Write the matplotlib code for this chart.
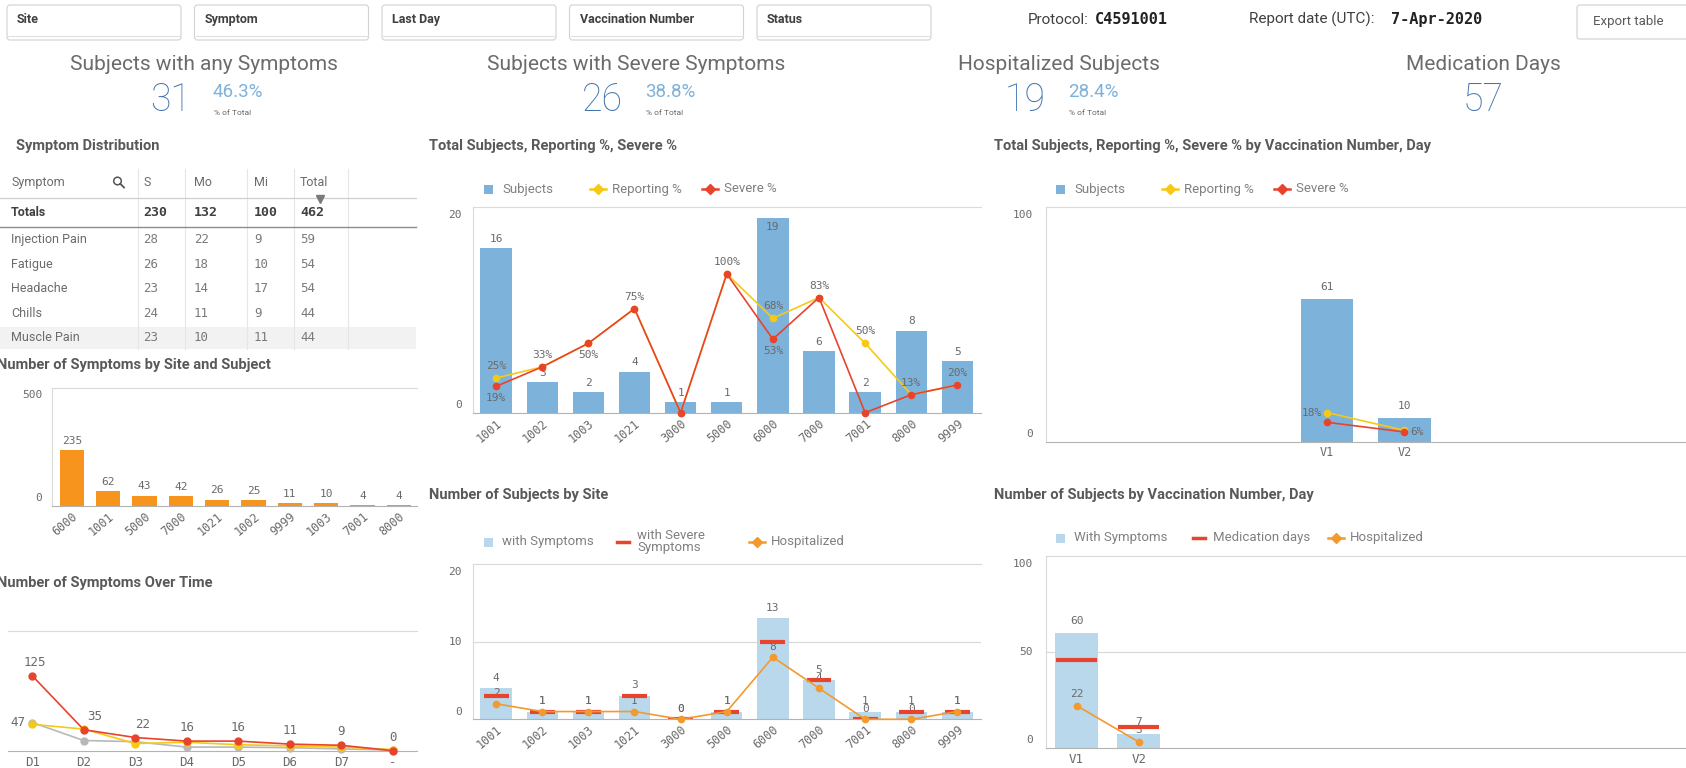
import matplotlib.pyplot as plt
from matplotlib.patches import FancyBboxPatch, Rectangle, Circle

W, H = 1686, 768

# filter bar / header
filters = ["Site", "Symptom", "Last Day", "Vaccination Number", "Status"]
protocol_id = "C4591001"
report_date = "7-Apr-2020"

# KPI tiles
kpi_titles = ["Subjects with any Symptoms", "Subjects with Severe Symptoms",
              "Hospitalized Subjects", "Medication Days"]
kpi_values = [31, 26, 19, 57]
kpi_pcts = ["46.3%", "38.8%", "28.4%", None]

# symptom distribution table
table_cols = ["Symptom", "S", "Mo", "Mi", "Total"]
table_totals = [230, 132, 100, 462]
symptoms = ["Injection Pain", "Fatigue", "Headache", "Chills", "Muscle Pain"]
sym_s = [28, 26, 23, 24, 23]
sym_mo = [22, 18, 14, 11, 10]
sym_mi = [9, 10, 17, 9, 11]
sym_total = [59, 54, 54, 44, 44]

# symptoms by site and subject
subj_sites = ["6000", "1001", "5000", "7000", "1021", "1002", "9999", "1003", "7001", "8000"]
subj_counts = [235, 62, 43, 42, 26, 25, 11, 10, 4, 4]

# symptoms over time (S / Mo / Mi)
days = ["D1", "D2", "D3", "D4", "D5", "D6", "D7", "-"]
over_s = [125, 35, 22, 16, 16, 11, 9, 0]
over_mo = [44, 36, 12, 14, 10, 8, 6, 2]
over_mi = [47, 17, 15, 6, 6, 5, 3, 1]

# subjects / reporting % / severe % by site
sites = ["1001", "1002", "1003", "1021", "3000", "5000", "6000", "7000", "7001", "8000", "9999"]
site_subjects = [16, 3, 2, 4, 1, 1, 19, 6, 2, 8, 5]
site_reporting = [25, 33, 50, 75, 0, 100, 68, 83, 50, 13, 20]
site_severe = [19, 33, 50, 75, 0, 100, 53, 83, 0, 13, 20]

# number of subjects by site
site_with_sym = [4, 1, 1, 3, 0, 1, 13, 5, 1, 1, 1]
site_sev_sym = [3, 1, 1, 3, 0, 1, 10, 5, 0, 1, 1]
site_hosp = [2, 1, 1, 1, 0, 1, 8, 4, 0, 0, 1]

# by vaccination number
vacc = ["V1", "V2"]
vacc_subjects = [61, 10]
vacc_reporting = [18, 7]
vacc_severe = [12, 6]
vacc_with_sym = [60, 7]
vacc_med_days = [46, 11]
vacc_hosp = [22, 3]

SANS = "Roboto"
MONO = "DejaVu Sans Mono"
TITLE = "#595959"
TXT = "#404040"
LEG = "#808080"
NUM = "#6a6a6a"
AXIS = "#dadada"
BASE = "#b3b3b3"
BLUE_BAR = "#7db3db"
LIGHT_BAR = "#b9d8eb"
ORANGE_BAR = "#f7941d"
RED = "#e8432c"
YELLOW = "#f6c917"
HOSP = "#f39a2e"
GREY_LINE = "#b8b8b8"
KPI_BLUE = "#4275b0"
KPI_PCT = "#7fb1d9"

plt.rcParams["font.family"] = [SANS, "DejaVu Sans"]

fig = plt.figure(figsize=(W / 100, H / 100), dpi=100)
bg = fig.add_axes([0, 0, 1, 1])
bg.set_xlim(0, W)
bg.set_ylim(H, 0)
bg.axis("off")


def px_axes(x0, y0, x1, y1):
    return fig.add_axes([x0 / W, 1 - y1 / H, (x1 - x0) / W, (y1 - y0) / H])


def frame(ax, ymax, yticks, pad=8, left=True, tick_labels=True):
    ax.set_ylim(0, ymax)
    ax.set_yticks([])
    ax.tick_params(axis="x", length=0, pad=3, labelsize=8.5, labelcolor=NUM,
                   labelfontfamily=MONO)
    ax.spines["right"].set_visible(False)
    ax.spines["top"].set_color(AXIS)
    ax.spines["left"].set_color(AXIS)
    ax.spines["left"].set_visible(left)
    ax.spines["bottom"].set_color(BASE)
    ax.patch.set_alpha(0)
    for t in yticks[1:-1]:
        ax.axhline(t, color=AXIS, lw=0.9, zorder=0)
    if not tick_labels:
        return
    for t in yticks:
        if t == yticks[0]:
            va, dy = "bottom", 2
        elif t == yticks[-1]:
            va, dy = "top", -2
        else:
            va, dy = "center", 0
        ax.annotate(str(t), (0, t), xycoords=("axes fraction", "data"),
                    xytext=(-pad, dy), textcoords="offset points", ha="right", va=va,
                    fontsize=8, family=MONO, color=NUM, annotation_clip=False)


def label(ax, x, y, text, dx=0, dy=3, ha="center", va="bottom", z=3):
    ax.annotate(text, (x, y), xytext=(dx, dy), textcoords="offset points", ha=ha, va=va,
                fontsize=8, family=MONO, color=NUM, zorder=z, annotation_clip=False)


def title(x, y, text):
    bg.text(x, y, text, fontsize=10.5, fontweight="bold", color=TITLE, va="center", ha="left")


def legend_item(x, y, kind, color, text):
    if kind == "square":
        bg.add_patch(Rectangle((x - 4.5, y - 4.5), 9, 9, color=color, lw=0))
    elif kind == "line":
        bg.plot([x - 8, x + 8], [y, y], color=color, lw=1.8)
        bg.plot([x], [y], marker="D", ms=5, color=color)
    elif kind == "dash":
        bg.plot([x - 6, x + 6], [y, y], color=color, lw=2.5)
    bg.text(x + 14, y, text, fontsize=9.5, color=LEG, va="center", ha="left")


def xlabels_rotated(ax, names):
    ax.set_xticks(range(len(names)))
    ax.set_xticklabels(names, rotation=40, ha="right", va="top", rotation_mode="anchor")


# ---- filter bar ----
for i, name in enumerate(filters):
    x0 = 7 + 187.5 * i
    bg.add_patch(FancyBboxPatch((x0, 5), 174, 35, boxstyle="round,pad=0,rounding_size=3",
                                fc="white", ec="#d2d2d2", lw=0.8))
    bg.plot([x0 + 1, x0 + 173], [36, 36], color="#e0e0e0", lw=0.8)
    bg.text(x0 + 10, 19.5, name, fontsize=9, fontweight="bold", color=TXT, va="center")

bg.text(1028, 19.5, "Protocol:", fontsize=11, color=TXT, va="center")
bg.text(1095, 19.5, protocol_id, fontsize=11, fontweight="bold", family=MONO, color="#222222", va="center")
bg.text(1249, 19.5, "Report date (UTC):", fontsize=11, color=TXT, va="center")
bg.text(1391, 19.5, report_date, fontsize=11, fontweight="bold", family=MONO, color="#222222", va="center")

bg.add_patch(FancyBboxPatch((1577, 5), 130, 34, boxstyle="round,pad=0,rounding_size=3",
                            fc="white", ec="#cfcfcf", lw=0.8))
bg.text(1628, 22, "Export table", fontsize=9.5, color=TITLE, ha="center", va="center")

# ---- KPI tiles ----
kpi_centers = [204, 636, 1059, 1483]
for cx, ttl, val, pct in zip(kpi_centers, kpi_titles, kpi_values, kpi_pcts):
    bg.text(cx, 65, ttl, fontsize=15, color="#6b6b6b", ha="center", va="center")
    if pct is None:
        bg.text(cx, 100, str(val), fontsize=27, fontweight="light", color=KPI_BLUE, ha="center", va="center")
    else:
        bg.text(cx - 13, 100, str(val), fontsize=27, fontweight="light", color=KPI_BLUE, ha="right", va="center")
        bg.text(cx + 9, 92, pct, fontsize=13.5, color=KPI_PCT, ha="left", va="center")
        bg.text(cx + 10, 113, "% of Total", fontsize=6, color="#666666", ha="left", va="center")

# ---- symptom distribution table ----
title(16, 146, "Symptom Distribution")
col_x = [11, 143, 194, 254, 300]
sep_x = [137.7, 185, 246.7, 294.3, 347.7]
bg.add_patch(Rectangle((0, 327), 416, 22, color="#f2f2f2", lw=0))
for sx in sep_x:
    bg.plot([sx, sx], [169, 349], color="#e6e6e6", lw=0.8)
bg.plot([0, 416], [197.7, 197.7], color="#cfcfcf", lw=0.9)
bg.plot([0, 416], [226.7, 226.7], color="#8c8c8c", lw=1.0)
for cx, col in zip(col_x, table_cols):
    bg.text(cx, 182.7, col, fontsize=9, color="#6b6b6b", va="center")
bg.add_patch(Circle((117.5, 181), 3.8, fill=False, ec="#555555", lw=1.1))
bg.plot([120.3, 124], [183.8, 187.5], color="#555555", lw=1.3)
bg.plot([320], [198.5], marker="v", ms=6, color="#7a7a7a")

bg.text(col_x[0], 212, "Totals", fontsize=9, fontweight="bold", color=TXT, va="center")
for cx, v in zip(col_x[1:], table_totals):
    bg.text(cx, 212, str(v), fontsize=9.5, fontweight="bold", family=MONO, color=TXT, va="center")
for i, sym in enumerate(symptoms):
    ry = 239.7 + 24.5 * i
    bg.text(col_x[0], ry, sym, fontsize=9, color="#6b6b6b", va="center")
    for cx, v in zip(col_x[1:], [sym_s[i], sym_mo[i], sym_mi[i], sym_total[i]]):
        bg.text(cx, ry, str(v), fontsize=9, family=MONO, color="#7a7a7a", va="center")

# ---- number of symptoms by site and subject ----
title(-3, 365, "Number of Symptoms by Site and Subject")
ax = px_axes(52, 387.7, 417, 505.7)
xs = range(len(subj_sites))
ax.bar(xs, subj_counts, width=0.67, color=ORANGE_BAR, zorder=2)
for x, v in zip(xs, subj_counts):
    label(ax, x, v, str(v))
ax.set_xlim(-0.55, 9.5)
xlabels_rotated(ax, subj_sites)
frame(ax, 500, [0, 500], pad=7)

# ---- number of symptoms over time ----
title(-3, 583, "Number of Symptoms Over Time")
ax = px_axes(8, 630.7, 417, 750.7)
xs = range(len(days))
ax.plot(xs, over_mi, color=GREY_LINE, lw=1.2, marker="o", ms=5, zorder=3, clip_on=False)
ax.plot(xs, over_mo, color=YELLOW, lw=1.2, marker="o", ms=5, zorder=4, clip_on=False)
ax.plot(xs, over_s, color=RED, lw=1.2, marker="o", ms=5, zorder=5, clip_on=False)
s_dx = [2, 8, 5, 0, 0, 0, 0, 0]
for x, v, dx in zip(xs, over_s, s_dx):
    ax.annotate(str(v), (x, v), xytext=(dx, 5), textcoords="offset points", ha="center",
                va="bottom", fontsize=9, family=MONO, color=NUM, annotation_clip=False)
ax.annotate(str(over_mi[0]), (0, over_mi[0]), xytext=(-5, 0), textcoords="offset points",
            ha="right", va="center", fontsize=9, family=MONO, color=NUM, annotation_clip=False)
ax.set_xlim(-0.47, 7.47)
ax.set_xticks(list(xs))
ax.set_xticklabels(days)
frame(ax, 200, [0, 200], left=False, tick_labels=False)
ax.tick_params(axis="x", labelsize=9, pad=4)

# ---- total subjects, reporting %, severe % ----
title(429, 146, "Total Subjects, Reporting %, Severe %")
legend_item(488, 189, "square", BLUE_BAR, "Subjects")
legend_item(598, 189, "line", YELLOW, "Reporting %")
legend_item(710, 189, "line", RED, "Severe %")
ax = px_axes(473, 207.3, 980.5, 412.7)
xs = list(range(len(sites)))
ax.bar(xs, site_subjects, width=0.68, color=BLUE_BAR, zorder=2)
for x, v in zip(xs, site_subjects):
    if v > 18:
        label(ax, x, v, str(v), dy=-3, va="top")
    else:
        label(ax, x, v, str(v))
ax.set_xlim(-0.5, 10.5)
xlabels_rotated(ax, sites)
frame(ax, 20, [0, 20])
ax2 = ax.twinx()
ax2.set_ylim(0, 148)
ax2.axis("off")
ax2.plot(xs, site_reporting, color=YELLOW, lw=1.2, marker="o", ms=4.5, zorder=3, clip_on=False)
ax2.plot(xs, site_severe, color=RED, lw=1.2, marker="o", ms=4.5, zorder=4, clip_on=False)
rep_pos = ["above", None, None, None, None, None, "above", None, "above", None, None]
sev_pos = ["below", "above", "below", "above", None, "above", "below", "above", None, "above", "above"]
for x, v, p in zip(xs, site_reporting, rep_pos):
    if p:
        label(ax2, x, v, f"{v}%", dy=5)
for x, v, p in zip(xs, site_severe, sev_pos):
    if p == "above":
        label(ax2, x, v, f"{v}%", dy=5)
    elif p == "below":
        label(ax2, x, v, f"{v}%", dy=-5, va="top")

# ---- by vaccination number, day ----
title(994, 146, "Total Subjects, Reporting %, Severe % by Vaccination Number, Day")
legend_item(1060, 189, "square", BLUE_BAR, "Subjects")
legend_item(1170, 189, "line", YELLOW, "Reporting %")
legend_item(1282, 189, "line", RED, "Severe %")
ax = px_axes(1045.5, 207.3, 1686, 441.7)
xs = list(range(len(vacc)))
ax.bar(xs, vacc_subjects, width=0.68, color=BLUE_BAR, zorder=2)
for x, v in zip(xs, vacc_subjects):
    label(ax, x, v, str(v), dy=5)
ax.set_xlim(-3.64, 4.64)
ax.set_xticks(xs)
ax.set_xticklabels(vacc)
frame(ax, 100, [0, 100], pad=9)
ax.tick_params(axis="x", labelsize=8.5)
ax2 = ax.twinx()
ax2.set_ylim(0, 145)
ax2.axis("off")
ax2.plot(xs, vacc_reporting, color=YELLOW, lw=1.2, marker="o", ms=4.5, zorder=3, clip_on=False)
ax2.plot(xs, vacc_severe, color=RED, lw=1.2, marker="o", ms=4.5, zorder=4, clip_on=False)
label(ax2, 0, vacc_reporting[0], f"{vacc_reporting[0]}%", dx=-4, dy=0, ha="right", va="center")
label(ax2, 1, vacc_severe[1], f"{vacc_severe[1]}%", dx=4, dy=0, ha="left", va="center")

# ---- number of subjects by site ----
title(429, 495, "Number of Subjects by Site")
legend_item(488, 542, "square", LIGHT_BAR, "with Symptoms")
legend_item(623, 542, "dash", RED, "")
bg.text(637, 541.5, "with Severe\nSymptoms", fontsize=9.5, color=LEG, va="center", ha="left",
        linespacing=0.95)
legend_item(757, 542, "line", HOSP, "Hospitalized")
ax = px_axes(473, 564, 980.5, 719.3)
xs = list(range(len(sites)))
ax.bar(xs, site_with_sym, width=0.68, color=LIGHT_BAR, zorder=2)
for x, v in zip(xs, site_with_sym):
    label(ax, x, v, str(v), dy=4)
for x, v in zip(xs, site_hosp):
    label(ax, x, v, str(v), dy=4)
ax.hlines(site_sev_sym, [x - 0.27 for x in xs], [x + 0.27 for x in xs], color=RED, lw=3, zorder=4)
ax.plot(xs, site_hosp, color=HOSP, lw=1.2, marker="o", ms=4.5, zorder=5, clip_on=False)
ax.set_xlim(-0.5, 10.5)
xlabels_rotated(ax, sites)
frame(ax, 20, [0, 10, 20])

# ---- number of subjects by vaccination number, day ----
title(994, 495, "Number of Subjects by Vaccination Number, Day")
legend_item(1060, 538, "square", LIGHT_BAR, "With Symptoms")
legend_item(1199, 538, "dash", RED, "Medication days")
legend_item(1336, 538, "line", HOSP, "Hospitalized")
ax = px_axes(1045.5, 556.3, 1686, 747.7)
xs = list(range(len(vacc)))
ax.bar(xs, vacc_with_sym, width=0.69, color=LIGHT_BAR, zorder=2)
for x, v in zip(xs, vacc_with_sym):
    label(ax, x, v, str(v), dy=5)
for x, v in zip(xs, vacc_hosp):
    label(ax, x, v, str(v), dy=5)
ax.hlines(vacc_med_days, [x - 0.33 for x in xs], [x + 0.33 for x in xs], color=RED, lw=3, zorder=4)
ax.plot(xs, vacc_hosp, color=HOSP, lw=1.2, marker="o", ms=4.5, zorder=5, clip_on=False)
ax.set_xlim(-0.5, 9.8)
ax.set_xticks(xs)
ax.set_xticklabels(vacc)
frame(ax, 100, [0, 50, 100], pad=9)
ax.tick_params(axis="x", labelsize=9, pad=4)

fig.savefig("out.png", dpi=100)
